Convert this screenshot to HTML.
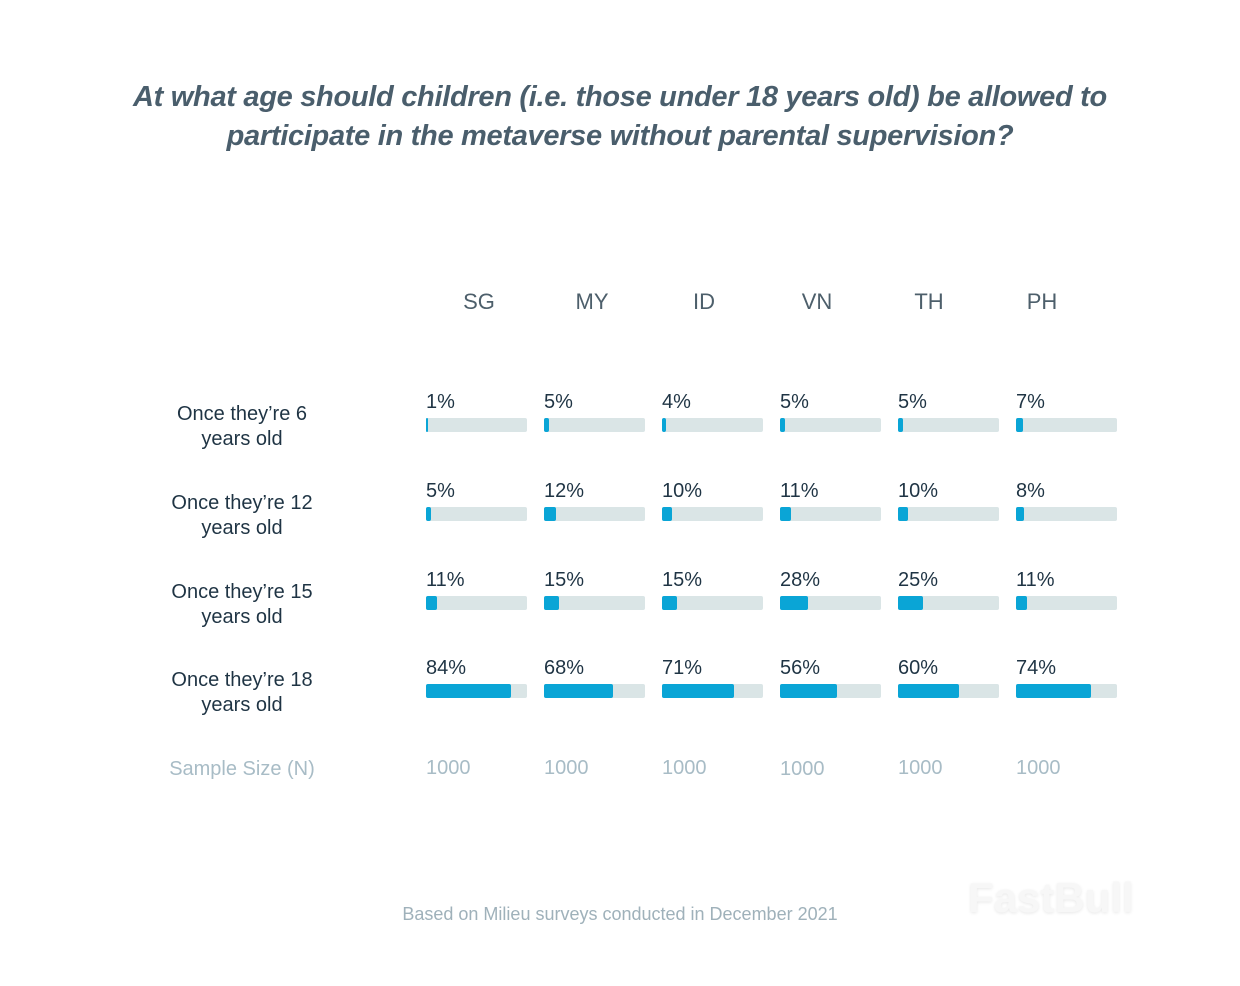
<!DOCTYPE html>
<html><head><meta charset="utf-8"><style>
body{margin:0;width:1240px;height:986px;background:#fff;position:relative;font-family:"Liberation Sans",sans-serif;overflow:hidden}
.a{position:absolute;white-space:nowrap}
.t{left:0;width:1240px;text-align:center;font-style:italic;font-weight:bold;font-size:29px;color:#4a5e6c;letter-spacing:-0.3px}
.h{font-size:22px;color:#4d5f6b;width:80px;text-align:center}
.r{font-size:20px;color:#1f3444;width:240px;text-align:center;line-height:25px}
.p{font-size:20px;color:#1f3444}
.track{position:absolute;width:101px;height:14px;background:#dae5e6;border-radius:2px}
.fill{position:absolute;left:0;top:0;height:14px;background:#0aa5d6;border-radius:2px}
.s{font-size:20px;color:#a8bcc6}
</style></head><body>
<div class="a t" style="top:81px">At what age should children (i.e. those under 18 years old) be allowed to</div>
<div class="a t" style="top:120px">participate in the metaverse without parental supervision?</div>
<div id="c"></div>
<div class="a" style="left:0;width:1240px;text-align:center;top:904px;font-size:18px;color:#9fb1ba">Based on Milieu surveys conducted in December 2021</div>
<div class="a" style="left:968px;top:874px;font-size:42px;font-weight:bold;color:#f7f7f7;text-shadow:0 1px 3px #e8e8e8">FastBull</div>
<script>
var cols=["SG","MY","ID","VN","TH","PH"],x0=426,dx=118,hx=[479,592,704,817,929,1042];
var rows=["Once they’re 6|years old","Once they’re 12|years old","Once they’re 15|years old","Once they’re 18|years old"];
var d=[[1,5,4,5,5,7],[5,12,10,11,10,8],[11,15,15,28,25,11],[84,68,71,56,60,74]];
var ry=[418,507,596,684],h="";
cols.forEach(function(c,i){h+='<div class="a h" style="left:'+(hx[i]-40)+'px;top:289px">'+c+'</div>';
h+='<div class="a s" style="left:'+(x0+dx*i)+'px;top:'+(i==3?758:757)+'px">1000</div>';});
rows.forEach(function(r,j){var p=r.split("|");
h+='<div class="a r" style="left:122px;top:'+(ry[j]-16)+'px">'+p[0]+'<br>'+p[1]+'</div>';
d[j].forEach(function(v,i){var x=x0+dx*i;
h+='<div class="a p" style="left:'+x+'px;top:'+(ry[j]-27)+'px">'+v+'%</div>';
h+='<div class="track" style="left:'+x+'px;top:'+ry[j]+'px"><div class="fill" style="width:'+Math.max(2,Math.round(v*1.01))+'px"></div></div>';});});
h+='<div class="a s" style="left:122px;width:240px;text-align:center;top:758px">Sample Size (N)</div>';
document.getElementById("c").innerHTML=h;
</script>
</body></html>
